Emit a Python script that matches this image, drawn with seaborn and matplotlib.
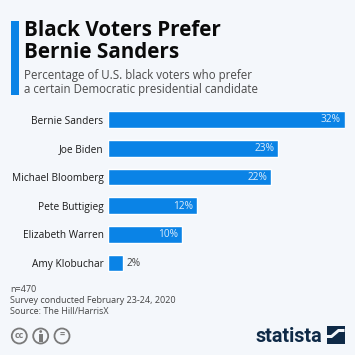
import matplotlib
matplotlib.use('Agg')
import matplotlib.pyplot as plt
from matplotlib.patches import Circle, Polygon, Rectangle
import pandas as pd
import seaborn as sns

candidates = ['Bernie Sanders', 'Joe Biden', 'Michael Bloomberg', 'Pete Buttigieg',
              'Elizabeth Warren', 'Amy Klobuchar']
shares = [32, 23, 22, 12, 10, 2]

BG = '#f4f7fb'
BLUE = '#0a83e6'
NAVY = '#0f2a47'
W = H = 355

sns.set_theme(style='white')
plt.rcParams['font.family'] = ['Open Sans', 'DejaVu Sans']

fig = plt.figure(figsize=(W / 100, H / 100), dpi=100, facecolor=BG)


def px_text(x, y, s, **kw):
    # pixel coordinates, y measured from the top
    return fig.text(x / W, 1 - y / H, s, **kw)


# chart area, placed in pixels
ax = fig.add_axes([108 / W, 1 - 277.35 / H, 236.5 / W, 172.2 / H], facecolor='none')
df = pd.DataFrame({'candidate': candidates, 'share': shares})
sns.barplot(data=df, x='share', y='candidate', color=BLUE, saturation=1, width=0.58, ax=ax)
ax.set_xlim(0, 32)
ax.set_ylim(5.5, -0.5)
ax.set_xlabel('')
ax.set_ylabel('')
ax.xaxis.set_visible(False)
ax.tick_params(axis='y', length=0, pad=3.2, labelsize=7.3, labelcolor='#1a1a1a')
sns.despine(ax=ax, left=True, bottom=True)

for i, v in enumerate(shares):
    if v >= 10:
        ax.annotate(f'{v}%', (v, i), xytext=(-2.5, -0.3), textcoords='offset points',
                    ha='right', va='center', color='#dcecfb', fontsize=7.3)
    else:
        ax.annotate(f'{v}%', (v, i), xytext=(3, -0.3), textcoords='offset points',
                    ha='left', va='center', color='#444444', fontsize=7.3)

# header
fig.add_artist(Rectangle((10.5 / W, 1 - 94.5 / H), 8.5 / W, 73 / H, color=BLUE,
                         transform=fig.transFigure, lw=0))
px_text(24, 30, 'Black Voters Prefer', fontsize=14.9, fontweight='bold', color='#0a0a0a', va='center')
px_text(24, 52.5, 'Bernie Sanders', fontsize=14.9, fontweight='bold', color='#0a0a0a', va='center')
px_text(24, 76, 'Percentage of U.S. black voters who prefer', fontsize=8.3, color='#4a4a4a', va='center')
px_text(24, 90, 'a certain Democratic presidential candidate', fontsize=8.3, color='#4a4a4a', va='center')

# footer notes
px_text(10.5, 290, 'n=470', fontsize=6.45, color='#444444', va='center')
px_text(10.5, 300.5, 'Survey conducted February 23-24, 2020', fontsize=6.45, color='#444444', va='center')
px_text(10.5, 311, 'Source: The Hill/HarrisX', fontsize=6.45, color='#444444', va='center')

# licence badges and logo sit on an overlay in pixel coordinates
overlay = fig.add_axes([0, 0, 1, 1], facecolor='none')
overlay.set_xlim(0, W)
overlay.set_ylim(H, 0)
overlay.axis('off')
overlay.set_aspect('equal')

GREY = '#7a7a7a'
for cx, s in [(19.3, 'cc'), (62, '=')]:
    overlay.add_patch(Circle((cx, 336), 7.5, fc='none', ec=GREY, lw=1.3))
    overlay.text(cx, 335.6, s, fontsize=6.5, fontweight='bold', color=GREY, ha='center', va='center')
overlay.add_patch(Circle((40.7, 336), 7.5, fc='none', ec=GREY, lw=1.3))
overlay.add_patch(Circle((40.7, 331.5), 1.4, fc=GREY, ec='none'))
overlay.add_patch(Rectangle((38.5, 333.5), 4.4, 8, fc=GREY, ec='none'))

overlay.text(322.5, 336, 'statista', fontsize=14.2, fontweight='bold', color=NAVY, ha='right',
             va='center', family=['Roboto', 'DejaVu Sans'])
overlay.add_patch(Rectangle((327, 326), 17.5, 18, fc=NAVY, ec='none'))
overlay.add_patch(Polygon([(327, 335), (331, 335), (338, 329), (344.5, 329), (344.5, 332),
                           (339, 332), (332, 338), (327, 338)], fc=BG, ec='none'))

fig.savefig('out.png', dpi=100, facecolor=BG)
